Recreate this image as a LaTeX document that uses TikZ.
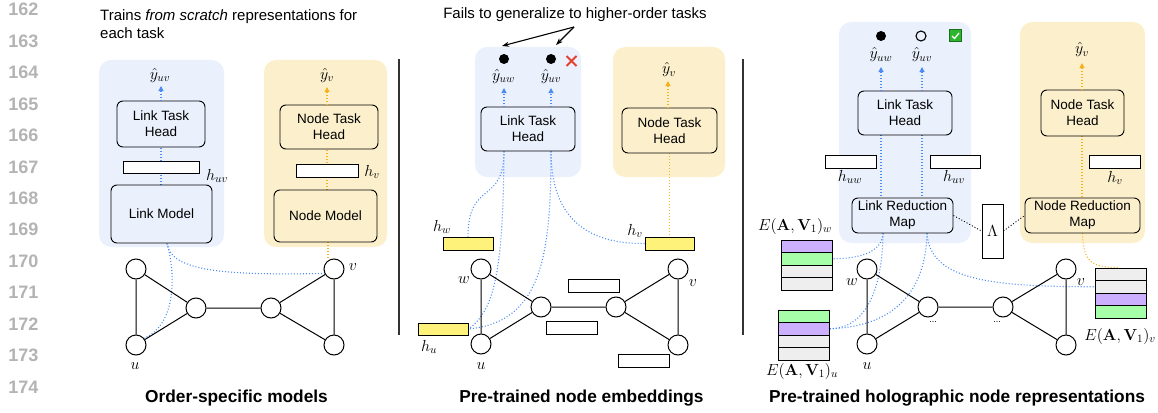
\documentclass[tikz,border=0pt]{standalone}
\usepackage{fix-cm}
\usepackage[no-math]{fontspec}
\setmainfont{Liberation Sans}
\usetikzlibrary{arrows.meta}
\definecolor{bluebg}{HTML}{EBF1FC}
\definecolor{yellowbg}{HTML}{FCF0CC}
\definecolor{dotblue}{HTML}{4A8BF5}
\definecolor{dotorange}{HTML}{F5B21F}
\definecolor{hyellow}{HTML}{FFF27A}
\definecolor{stpurple}{HTML}{CCB0FF}
\definecolor{stgreen}{HTML}{A6FFA8}
\definecolor{stgray}{HTML}{EEEEEE}
\definecolor{linenum}{HTML}{B3B3B3}
\definecolor{xred}{HTML}{E3412F}
\definecolor{chkgreen}{HTML}{2DB52D}
\definecolor{chkdark}{HTML}{1B6E1B}
\newcommand{\boxfont}{\fontsize{13.5}{16}\selectfont}
\newcommand{\notefont}{\fontsize{15}{18}\selectfont}
\newcommand{\titlefont}{\fontsize{17.3}{20}\selectfont\bfseries}
\newcommand{\mathlab}{\fontsize{16}{19}\selectfont}
\newcommand{\numfont}{\fontsize{18}{20}\selectfont\bfseries}
\pgfdeclarelayer{panel}
\pgfdeclarelayer{lines}
\pgfsetlayers{panel,lines,main}
\begin{document}
\begin{tikzpicture}[x=1pt,y=-1pt,
  panelb/.style={fill=bluebg, rounded corners=12pt},
  panely/.style={fill=yellowbg, rounded corners=12pt},
  box/.style={draw, rounded corners=6pt, line width=0.9pt, align=center, inner sep=0pt, font=\boxfont},
  hbar/.style={draw, fill=white, line width=0.9pt, inner sep=0pt, minimum width=51pt, minimum height=13pt},
  ybar/.style={hbar, fill=hyellow},
  stk/.style={draw, line width=0.9pt, inner sep=0pt, minimum width=51pt, minimum height=12.5pt},
  gnode/.style={circle, draw, fill=white, line width=1pt, minimum size=20pt, inner sep=0pt},
  gedge/.style={line width=1pt},
  bdot/.style={draw=dotblue, line width=1.1pt, dash pattern=on 1pt off 2pt},
  odot/.style={draw=dotorange, line width=1.1pt, dash pattern=on 1pt off 2pt},
  kdot/.style={draw=black, line width=0.9pt, dash pattern=on 1pt off 2pt},
  barrow/.style={bdot, -{Triangle[length=5pt,width=5pt]}},
  oarrow/.style={odot, -{Triangle[length=5pt,width=5pt]}},
  lab/.style={font=\mathlab, inner sep=0pt},
  numst/.style={font=\numfont, text=linenum, inner sep=0pt},
  title/.style={font=\titlefont, inner sep=0pt, anchor=base},
  divider/.style={draw=black!80, line width=1.3pt}
]
\useasboundingbox (0,0) rectangle (1158,412);

% line numbers
\foreach \n [count=\i from 0] in {162,...,174}
  \node[numst, anchor=base] at (23.5, 16+31.42*\i) {\n};

% panel backgrounds
\begin{pgfonlayer}{panel}
  \path[panelb] (99,60) rectangle (224,247);
  \path[panely] (264,60) rectangle (387,247);
  \path[panelb] (475,47) rectangle (581,177);
  \path[panely] (613,47) rectangle (725,177);
  \path[panelb] (839,22) rectangle (971,243);
  \path[panely] (1020,22) rectangle (1145,243);
\end{pgfonlayer}

% dividers
\coordinate (dv1a) at (399,59); \coordinate (dv1b) at (399,335);
\coordinate (dv2a) at (743,59); \coordinate (dv2b) at (743,335);
\draw[divider] (dv1a) -- (dv1b);
\draw[divider] (dv2a) -- (dv2b);

% ================= Panel 1 =================
\node[font=\notefont, align=left, anchor=north west, inner sep=0pt] (note1) at (100,9)
  {Trains \textit{from scratch} representations for\\each task};

\node[lab] (y1) at (160,75) {$\hat{y}_{uv}$};
\node[box, minimum width=88pt, minimum height=46pt] (lth1) at (161,124) {Link Task\\Head};
\node[box, minimum width=101pt, minimum height=58pt] (lm1) at (161.5,214) {Link Model};
\coordinate (a1) at (161,86);
\draw[barrow] (lth1.north -| a1) -- (a1);
\begin{pgfonlayer}{lines}
  \draw[bdot] (lm1.north -| a1) -- (lth1.south -| a1);
\end{pgfonlayer}
\node[hbar, minimum width=76pt, minimum height=12pt] (hb1) at (161,167) {};
\node[lab] (hl1) at (217,176) {$h_{uv}$};

\node[lab] (y2) at (327,75) {$\hat{y}_{v}$};
\node[box, minimum width=98pt, minimum height=44pt] (nth1) at (329,127) {Node Task\\Head};
\node[box, minimum width=103pt, minimum height=52pt] (nm1) at (325.5,216) {Node Model};
\coordinate (a2) at (327,87);
\draw[oarrow] (nth1.north -| a2) -- (a2);
\begin{pgfonlayer}{lines}
  \draw[odot] (nm1.north -| a2) -- (nth1.south -| a2);
\end{pgfonlayer}
\node[hbar, minimum width=62pt] (hb2) at (327,170.5) {};
\node[lab] (hl2) at (372,172) {$h_{v}$};

% graph 1
\node[gnode] (p1a) at (136,269) {};
\node[gnode] (p1b) at (136,345) {};
\node[gnode] (p1c) at (196,308) {};
\node[gnode] (p1d) at (271,308) {};
\node[gnode] (p1e) at (334,269) {};
\node[gnode] (p1f) at (334,345) {};
\draw[gedge] (p1a) -- (p1b) (p1a) -- (p1c) (p1b) -- (p1c) (p1c) -- (p1d)
  (p1d) -- (p1e) (p1d) -- (p1f) (p1e) -- (p1f);
\node[lab] (l1u) at (135,366) {$u$};
\node[lab] (l1v) at (353,267) {$v$};

\begin{pgfonlayer}{lines}
  \draw[bdot] ([xshift=5.5pt]lm1.south) .. controls +(4,28) and +(-100,2) .. (p1e.205);
  \draw[bdot] ([xshift=5.5pt]lm1.south) .. controls (176,275) and (176,325) .. (p1b.40);
  \draw[odot] (nm1.south -| p1e.125) -- (p1e.125);
\end{pgfonlayer}

\node[title] (t1) at (236.5,402) {Order-specific models};

% ================= Panel 2 =================
\node[font=\notefont, anchor=base, inner sep=0pt] (note2) at (575,19) {Fails to generalize to higher-order tasks};
\coordinate (fo) at (574,27);
\coordinate (ft1) at (502,46);
\coordinate (ft2) at (556,45);
\draw[line width=1.1pt, -{Stealth[length=7pt,width=5pt]}] (fo) -- (ft1);
\draw[line width=1.1pt, -{Stealth[length=7pt,width=5pt]}] (fo) -- (ft2);

\fill (504,59) circle (5pt) coordinate (dot1);
\fill (551,59) circle (5pt) coordinate (dot2);
\draw[xred, line width=2pt] (566.5,56) -- (576.5,66) (566.5,66) -- (576.5,56);

\node[lab] (y3) at (503.5,76) {$\hat{y}_{uw}$};
\node[lab] (y4) at (551,76) {$\hat{y}_{uv}$};
\node[box, minimum width=94pt, minimum height=44pt] (lth2) at (528,129) {Link Task\\Head};
\coordinate (a3) at (504,88);
\coordinate (a4) at (551,88);
\draw[barrow] (lth2.north -| a3) -- (a3);
\draw[barrow] (lth2.north -| a4) -- (a4);

\node[lab] (y5) at (669,70) {$\hat{y}_{v}$};
\node[box, minimum width=95pt, minimum height=45pt] (nth2) at (669.5,130.5) {Node Task\\Head};
\coordinate (a5) at (668,81);
\draw[oarrow] (nth2.north -| a5) -- (a5);

\node[ybar, minimum width=50pt] (hw2) at (468,243.5) {};
\node[ybar, minimum width=49pt] (hv2) at (669.5,243.5) {};
\node[ybar, minimum width=50pt, minimum height=12pt] (hu2) at (443,329) {};
\node[lab] (lhw) at (442,227) {$h_{w}$};
\node[lab] (lhv) at (635,231) {$h_{v}$};
\node[lab] (lhu) at (429,347) {$h_{u}$};

\node[hbar] (wb1) at (593.5,285.5) {};
\node[hbar] (wb2) at (572,327.5) {};
\node[hbar] (wb3) at (643.5,360.5) {};

\node[gnode] (p2w) at (481,269) {};
\node[gnode] (p2u) at (481,344) {};
\node[gnode] (p2c) at (541,307) {};
\node[gnode] (p2d) at (616,307) {};
\node[gnode] (p2v) at (678,269) {};
\node[gnode] (p2f) at (678,345) {};
\draw[gedge] (p2w) -- (p2u) (p2w) -- (p2c) (p2u) -- (p2c) (p2c) -- (p2d)
  (p2d) -- (p2v) (p2d) -- (p2f) (p2v) -- (p2f);
\node[lab] (l2w) at (464,280) {$w$};
\node[lab] (l2v) at (693,283) {$v$};
\node[lab] (l2u) at (481,366) {$u$};

\begin{pgfonlayer}{lines}
  \draw[bdot] (lth2.south -| a3) .. controls (504,205) and (468,180) .. (hw2.north);
  \draw[bdot] (lth2.south -| a3) .. controls (503,270) and (495,310) .. (hu2.east);
  \draw[bdot] (lth2.south -| a4) .. controls (551,260) and (540,322) .. (hu2.east);
  \draw[bdot] (lth2.south -| a4) .. controls (551,225) and (595,244) .. (hv2.west);
  \draw[odot] (nth2.south -| hv2.north) -- (hv2.north);
\end{pgfonlayer}

\node[title] (t2) at (581.5,402) {Pre-trained node embeddings};

% ================= Panel 3 =================
\fill (881,36) circle (5pt) coordinate (dot3);
\draw[line width=1.1pt] (921,36) circle (5pt) coordinate (dot4);
\node[draw=chkdark, fill=chkgreen, minimum size=12.5pt, inner sep=0pt, line width=0.8pt] (chk) at (955.5,35.5) {};
\draw[white, line width=1.3pt] ([shift={(-3.5,0.5)}]chk.center) -- ([shift={(-1,3)}]chk.center) -- ([shift={(3.5,-2.5)}]chk.center);

\node[lab] (y6) at (881,55) {$\hat{y}_{uw}$};
\node[lab] (y7) at (922,55) {$\hat{y}_{uv}$};
\node[box, minimum width=94pt, minimum height=44pt] (lth3) at (905,113) {Link Task\\Head};
\coordinate (a6) at (881,67);
\coordinate (a7) at (922,67);
\draw[barrow] (lth3.north -| a6) -- (a6);
\draw[barrow] (lth3.north -| a7) -- (a7);

\node[lab] (y8) at (1082,50) {$\hat{y}_{v}$};
\node[box, minimum width=83pt, minimum height=46pt] (nth3) at (1082.5,113) {Node Task\\Head};
\coordinate (a8) at (1082,63);
\draw[oarrow] (nth3.north -| a8) -- (a8);

\node[hbar] (huw3) at (850.5,161.5) {};
\node[hbar, minimum width=50pt] (huv3) at (955,161.5) {};
\node[hbar] (hv3) at (1114.5,161.5) {};
\node[lab] (lhuw3) at (850,177) {$h_{uw}$};
\node[lab] (lhuv3) at (954,177) {$h_{uv}$};
\node[lab] (lhv3) at (1115,178) {$h_{v}$};

\node[box, minimum width=101pt, minimum height=35pt] (lrm) at (902.5,215.5) {Link Reduction\\Map};
\node[box, minimum width=115pt, minimum height=35pt] (nrm) at (1082.5,215.5) {Node Reduction\\Map};
\node[draw, line width=0.9pt, minimum width=21pt, minimum height=54pt, inner sep=0pt] (lam) at (992.5,231) {\mathlab$\Lambda$};
\draw[kdot] (lrm.east) -- (lam.west);
\draw[kdot] (lam.east) -- (nrm.west);

\begin{pgfonlayer}{lines}
  \draw[bdot] (lth3.south -| a6) -- (lrm.north -| a6);
  \draw[bdot] (lth3.south -| a7) -- (lrm.north -| a7);
  \draw[odot] (nth3.south -| a8) -- (nrm.north -| a8);
\end{pgfonlayer}

% stacks
\node[stk, fill=stpurple] (sw1) at (806.5,246.25) {};
\node[stk, fill=stgreen]  (sw2) at (806.5,258.75) {};
\node[stk, fill=stgray]   (sw3) at (806.5,271.25) {};
\node[stk, fill=stgray]   (sw4) at (806.5,283.75) {};
\node[stk, fill=stgreen]  (su1) at (804,316.25) {};
\node[stk, fill=stpurple] (su2) at (804,328.75) {};
\node[stk, fill=stgray]   (su3) at (804,341.25) {};
\node[stk, fill=stgray]   (su4) at (804,353.75) {};
\node[stk, fill=stgray]   (sv1) at (1121,274.25) {};
\node[stk, fill=stgray]   (sv2) at (1121,286.75) {};
\node[stk, fill=stpurple] (sv3) at (1121,299.25) {};
\node[stk, fill=stgreen]  (sv4) at (1121,311.75) {};
\node[lab] (lew) at (795,226) {$E(\mathbf{A},\mathbf{V}_1)_w$};
\node[lab] (leu) at (802,371) {$E(\mathbf{A},\mathbf{V}_1)_u$};
\node[lab] (lev) at (1120,336) {$E(\mathbf{A},\mathbf{V}_1)_v$};

% graph 3
\node[gnode] (p3w) at (867,269) {};
\node[gnode] (p3u) at (867,344) {};
\node[gnode] (p3c) at (928,307) {};
\node[gnode] (p3d) at (1003,307) {};
\node[gnode] (p3v) at (1066,269) {};
\node[gnode] (p3f) at (1066,345) {};
\draw[gedge] (p3w) -- (p3u) (p3w) -- (p3c) (p3u) -- (p3c) (p3c) -- (p3d)
  (p3d) -- (p3v) (p3d) -- (p3f) (p3v) -- (p3f);
\node[lab] (l3w) at (852,282) {$w$};
\node[lab] (l3v) at (1081,282) {$v$};
\node[lab] (l3u) at (867,366) {$u$};
\node[font=\fontsize{9}{10}\selectfont, inner sep=0pt] (dd1) at (933,322) {...};
\node[font=\fontsize{9}{10}\selectfont, inner sep=0pt] (dd2) at (997,322) {...};

\begin{pgfonlayer}{lines}
  \draw[bdot] ([xshift=-19.5pt]lrm.south) .. controls (882,252) and (860,258.75) .. (sw2.east);
  \draw[bdot] ([xshift=-19.5pt]lrm.south) .. controls (882,300) and (860,328.75) .. (su2.east);
  \draw[bdot] ([xshift=24.5pt]lrm.south) .. controls (925,305) and (880,327) .. (su2.east);
  \draw[bdot] ([xshift=24.5pt]lrm.south) .. controls (930,280) and (990,286.75) .. (sv2.west);
  \draw[odot] (nrm.south) .. controls (1083,265) and (1095,267) .. ([xshift=-3pt]sv1.north);
\end{pgfonlayer}

\node[title] (t3) at (957,402) {Pre-trained holographic node representations};
\end{tikzpicture}
\end{document}
